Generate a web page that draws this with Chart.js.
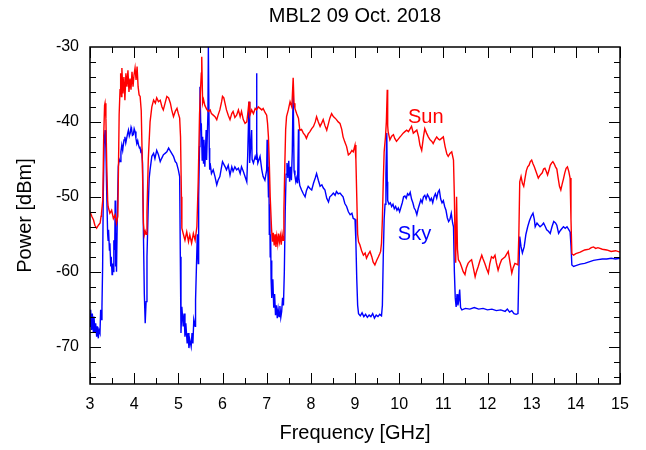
<!DOCTYPE html>
<html>
<head>
<meta charset="utf-8">
<script src="https://cdn.jsdelivr.net/npm/chart.js@4.4.1/dist/chart.umd.min.js"></script>
<style>
  html, body { margin: 0; padding: 0; background: #ffffff; }
  #wrap { width: 646px; height: 450px; }
</style>
</head>
<body>
<div id="wrap"><canvas id="c" width="646" height="450"></canvas></div>
<script>
// ---- data ----
const chartTitle = 'MBL2 09 Oct. 2018';
const xAxisTitle = 'Frequency [GHz]';
const yAxisTitle = 'Power [dBm]';
const xTickValues = [3, 4, 5, 6, 7, 8, 9, 10, 11, 12, 13, 14, 15];
const yTickValues = [-70, -60, -50, -40, -30];
const seriesNames = ['Sun', 'Sky'];

const sunFreq = [
  3.00, 3.04, 3.08, 3.11, 3.15, 3.19, 3.23, 3.25, 3.26, 3.29, 3.31, 3.33, 3.34, 3.36, 3.38, 3.40,
  3.41, 3.45, 3.49, 3.53, 3.57, 3.60, 3.63, 3.645, 3.66,
  3.680, 3.694, 3.711, 3.722, 3.745, 3.768, 3.790, 3.813, 3.836, 3.859, 3.882, 3.905, 3.928, 3.951,
  3.974, 3.997, 4.020, 4.043, 4.066, 4.089, 4.112, 4.135, 4.16, 4.19, 4.21, 4.23, 4.25, 4.27, 4.29,
  4.32, 4.36, 4.40, 4.44, 4.48, 4.51, 4.55, 4.59, 4.63, 4.66, 4.70, 4.74, 4.78, 4.82, 4.85, 4.89,
  4.93, 4.97, 5.00, 5.03, 5.05, 5.07, 5.08, 5.11, 5.15, 5.19, 5.23, 5.26, 5.30, 5.34, 5.38, 5.42,
  5.45, 5.48, 5.50, 5.52, 5.53, 5.55, 5.57, 5.60, 5.64, 5.68, 5.72, 5.75, 5.79, 5.83, 5.87, 5.90,
  5.94, 5.98, 6.00, 6.03, 6.06, 6.09, 6.13, 6.17, 6.21, 6.24, 6.28, 6.32, 6.36, 6.40, 6.43, 6.47,
  6.51, 6.55, 6.57, 6.60, 6.62, 6.66, 6.70, 6.74, 6.77, 6.81, 6.85, 6.89, 6.92, 6.96, 7.00, 7.02,
  7.04, 7.06, 7.08, 7.11, 7.13, 7.15, 7.17, 7.19, 7.21, 7.23, 7.25, 7.27, 7.29, 7.31, 7.33, 7.35,
  7.37, 7.39, 7.41, 7.43, 7.45, 7.49, 7.53, 7.57, 7.60, 7.62, 7.64, 7.68, 7.72, 7.75, 7.79, 7.83,
  7.87, 7.90, 7.94, 7.98, 8.02, 8.06, 8.10, 8.13, 8.17, 8.21, 8.25, 8.28, 8.32, 8.36, 8.40, 8.43,
  8.47, 8.51, 8.55, 8.58, 8.62, 8.66, 8.70, 8.73, 8.77, 8.81, 8.85, 8.89, 8.93, 8.96, 9.00, 9.02,
  9.04, 9.06, 9.08, 9.11, 9.15, 9.19, 9.23, 9.26, 9.30, 9.34, 9.38, 9.41, 9.45, 9.49, 9.53, 9.56,
  9.58, 9.60, 9.62, 9.64, 9.66, 9.69, 9.71, 9.73, 9.74, 9.75, 9.79, 9.83, 9.87, 9.90, 9.94, 9.98,
  10.02, 10.05, 10.09, 10.13, 10.17, 10.21, 10.25, 10.28, 10.32, 10.36, 10.40, 10.44, 10.47, 10.51,
  10.55, 10.58, 10.62, 10.66, 10.70, 10.74, 10.77, 10.81, 10.85, 10.89, 10.92, 10.96, 11.00, 11.04,
  11.08, 11.11, 11.15, 11.19, 11.23, 11.25, 11.27, 11.28, 11.30, 11.32, 11.34, 11.38, 11.41, 11.45,
  11.49, 11.52, 11.56, 11.60, 11.64, 11.68, 11.72, 11.75, 11.79, 11.83, 11.87, 11.90, 11.94, 11.98,
  12.02, 12.05, 12.09, 12.13, 12.17, 12.20, 12.24, 12.28, 12.32, 12.36, 12.40, 12.44, 12.47, 12.51,
  12.55, 12.58, 12.62, 12.66, 12.69, 12.71, 12.73, 12.76, 12.79, 12.82, 12.85, 12.88, 12.91, 12.94,
  12.97, 13.00, 13.03, 13.06, 13.09, 13.12, 13.15, 13.18, 13.21, 13.24, 13.27, 13.30, 13.33, 13.36,
  13.39, 13.42, 13.45, 13.48, 13.51, 13.54, 13.57, 13.60, 13.63, 13.66, 13.69, 13.72, 13.75, 13.78,
  13.81, 13.84, 13.87, 13.89, 13.91, 13.95, 14.00, 14.10, 14.20, 14.30, 14.35, 14.40, 14.45, 14.50,
  14.60, 14.70, 14.80, 14.90, 15.00
];
const sunPower = [
  -52.0, -52.6, -53.1, -53.8, -54.2, -53.8, -53.5, -52.6, -52.2, -50.4, -42.0, -37.8, -37.5, -39.5, -46.0, -50.5,
  -51.3, -52.2, -51.8, -52.9, -52.4, -53.5, -52.6, -46.0, -39.0,
  -35.7, -33.5, -36.6, -32.8, -36.2, -34.0, -37.1, -33.5, -35.3, -33.1, -36.0, -34.2, -35.7, -33.3,
  -35.3, -33.7, -32.8, -34.4, -32.6, -35.3, -36.4, -36.6, -38.5, -47.0, -53.5, -55.1, -54.6, -55.0, -52.0,
  -45.0, -40.0, -38.0, -37.1, -37.5, -36.8, -37.3, -37.1, -38.0, -38.4, -37.5, -36.6, -36.8, -37.5, -38.4, -39.3,
  -38.6, -38.2, -38.9, -39.5, -42.0, -50.0, -54.2, -54.9, -55.8, -54.7, -56.0, -55.1, -56.2, -54.9, -55.8, -54.0,
  -48.0, -39.0, -36.0, -33.5, -31.3, -37.5, -37.0, -37.8, -38.3, -38.6, -38.4, -38.9, -39.1, -39.3, -39.7, -39.1,
  -38.4, -37.3, -36.6, -36.8, -37.6, -38.4, -39.1, -39.7, -38.9, -38.6, -39.4, -39.1, -38.4, -39.3, -38.6, -39.7,
  -40.2, -40.0, -39.0, -37.3, -39.1, -38.4, -38.9, -38.2, -38.4, -38.0, -38.2, -38.4, -38.2, -38.7, -39.1, -40.2,
  -42.0, -45.5, -50.0, -54.2, -56.0, -54.8, -56.5, -55.0, -56.7, -55.3, -56.3, -54.9, -56.0, -55.2, -56.4, -55.0,
  -55.8, -52.0, -46.0, -41.0, -39.3, -38.4, -37.3, -38.0, -34.1, -37.5, -38.2, -38.9, -39.5, -41.1, -41.0, -41.5,
  -41.8, -42.2, -41.6, -41.3, -40.9, -40.6, -40.0, -39.3, -40.0, -40.6, -40.1, -39.7, -40.5, -41.1, -40.2, -39.5,
  -38.9, -39.3, -39.5, -39.7, -40.0, -40.2, -41.0, -42.0, -42.7, -43.3, -44.4, -44.2, -43.8, -44.0, -43.1, -45.0,
  -50.0, -55.0, -56.0, -56.4, -57.2, -57.8, -57.5, -58.2, -57.7, -57.3, -58.0, -58.7, -59.1, -58.5, -58.0, -57.6,
  -57.3, -56.2, -53.0, -48.0, -44.0, -42.0, -40.0, -35.7, -40.5, -41.3, -42.4, -41.9, -41.7, -42.2, -42.6, -42.3,
  -42.0, -41.8, -41.5, -41.3, -41.1, -41.3, -40.9, -40.6, -41.5, -41.3, -41.1, -42.0, -43.1, -43.8,
  -42.0, -40.9, -41.5, -42.0, -42.4, -42.6, -42.9, -42.4, -42.0, -42.3, -42.4, -42.2, -42.0, -43.3,
  -44.3, -44.6, -44.2, -44.0, -45.1, -50.0, -57.5, -58.8, -50.0, -57.0, -58.4, -58.8, -59.3, -60.0,
  -60.4, -59.5, -58.9, -58.6, -58.4, -59.5, -60.7, -60.0, -59.3, -58.5, -57.8, -58.3, -58.9, -59.6,
  -60.2, -59.0, -58.0, -58.2, -57.8, -58.8, -59.8, -59.0, -58.4, -58.2, -58.0, -57.6, -57.3, -58.8,
  -60.2, -59.5, -58.9, -59.0, -59.1, -55.0, -48.0, -47.3, -48.2, -48.6, -47.5, -46.5, -46.0, -45.8,
  -45.3, -45.1, -45.6, -46.0, -46.5, -47.0, -47.5, -47.2, -47.0, -46.8, -46.3, -46.2, -46.6, -47.1,
  -46.5, -45.8, -45.5, -45.3, -45.6, -46.0, -46.3, -47.5, -48.6, -49.1, -48.3, -47.6, -46.8, -46.2,
  -46.0, -46.6, -47.5, -53.0, -57.6, -57.8, -57.6, -57.4, -57.1, -57.0, -56.8, -56.7, -56.9, -56.8,
  -57.0, -57.1, -57.3, -57.2, -57.4
];

const skyFreq = [
  3.000, 3.015, 3.038, 3.053, 3.075, 3.090, 3.113, 3.128, 3.151, 3.166, 3.189, 3.204, 3.226, 3.241,
  3.256, 3.271, 3.286, 3.30, 3.32, 3.34, 3.36, 3.38, 3.40, 3.41, 3.42, 3.44, 3.45, 3.47, 3.48, 3.50,
  3.51, 3.53, 3.54, 3.56, 3.57, 3.58, 3.59, 3.60, 3.62, 3.64, 3.66, 3.68, 3.70, 3.72, 3.74, 3.75,
  3.77, 3.79, 3.81, 3.83, 3.85, 3.87, 3.89, 3.91, 3.93, 3.94, 3.96, 3.98, 4.00, 4.02, 4.04, 4.06,
  4.08, 4.10, 4.12, 4.13, 4.15, 4.17, 4.19, 4.21, 4.23, 4.25, 4.27, 4.29, 4.32, 4.34, 4.36, 4.40,
  4.44, 4.47, 4.51, 4.55, 4.59, 4.62, 4.66, 4.70, 4.74, 4.78, 4.81, 4.85, 4.89, 4.93, 4.96, 5.00,
  5.03, 5.045, 5.06, 5.08, 5.11, 5.13, 5.15, 5.17, 5.20, 5.22, 5.24, 5.26, 5.29, 5.31, 5.33, 5.35,
  5.38, 5.39, 5.41, 5.43, 5.45, 5.46, 5.48, 5.49, 5.51, 5.52, 5.54, 5.55, 5.57, 5.58, 5.60, 5.61,
  5.63, 5.64, 5.67, 5.68, 5.70, 5.71, 5.72, 5.75, 5.79, 5.83, 5.87, 5.90, 5.94, 6.00, 6.06, 6.09,
  6.13, 6.17, 6.21, 6.24, 6.28, 6.32, 6.36, 6.40, 6.43, 6.47, 6.51, 6.55, 6.57, 6.60, 6.61, 6.62,
  6.66, 6.67, 6.70, 6.74, 6.76, 6.77, 6.78, 6.80, 6.85, 6.89, 6.92, 6.96, 7.00, 7.01, 7.03, 7.04,
  7.05, 7.06, 7.07, 7.08, 7.09, 7.10, 7.11, 7.12, 7.14, 7.16, 7.18, 7.20, 7.22, 7.24, 7.26, 7.28,
  7.30, 7.32, 7.34, 7.36, 7.38, 7.40, 7.42, 7.44, 7.46, 7.48, 7.50, 7.52, 7.54, 7.56, 7.58, 7.60,
  7.62, 7.64, 7.66, 7.68, 7.70, 7.72, 7.73, 7.75, 7.79, 7.83, 7.87, 7.90, 7.94, 7.98, 8.02, 8.06,
  8.10, 8.13, 8.17, 8.21, 8.25, 8.28, 8.32, 8.36, 8.40, 8.43, 8.47, 8.51, 8.55, 8.58, 8.62, 8.66,
  8.70, 8.73, 8.77, 8.81, 8.85, 8.89, 8.93, 8.96, 9.00, 9.02, 9.04, 9.06, 9.08, 9.12, 9.16, 9.20,
  9.24, 9.28, 9.32, 9.36, 9.40, 9.44, 9.48, 9.52, 9.56, 9.60, 9.62, 9.64, 9.66, 9.68, 9.70, 9.72,
  9.73, 9.74, 9.77, 9.80, 9.83, 9.86, 9.89, 9.92, 9.95, 9.98, 10.01, 10.04, 10.07, 10.10, 10.13,
  10.16, 10.19, 10.22, 10.25, 10.28, 10.31, 10.34, 10.37, 10.40, 10.43, 10.46, 10.49, 10.52, 10.55,
  10.58, 10.61, 10.64, 10.67, 10.70, 10.73, 10.76, 10.79, 10.82, 10.85, 10.88, 10.91, 10.94, 10.97,
  11.00, 11.03, 11.06, 11.09, 11.12, 11.15, 11.18, 11.21, 11.23, 11.25, 11.27, 11.29, 11.31, 11.33,
  11.35, 11.37, 11.39, 11.42, 11.50, 11.60, 11.70, 11.80, 11.90, 12.00, 12.10, 12.20, 12.30, 12.40,
  12.45, 12.50, 12.55, 12.60, 12.65, 12.69, 12.71, 12.73, 12.76, 12.79, 12.83, 12.87, 12.91, 12.95,
  12.99, 13.03, 13.06, 13.08, 13.12, 13.16, 13.19, 13.23, 13.27, 13.31, 13.34, 13.38, 13.42, 13.46,
  13.50, 13.54, 13.57, 13.61, 13.65, 13.69, 13.72, 13.76, 13.80, 13.84, 13.87, 13.89, 13.91, 13.95,
  14.00, 14.10, 14.20, 14.30, 14.40, 14.50, 14.60, 14.70, 14.80, 14.90, 15.00
];
const skyPower = [
  -67.3, -65.1, -67.8, -65.6, -68.0, -66.0, -68.2, -66.9, -68.7, -67.3, -68.9, -67.8, -68.2, -65.1,
  -66.4, -64.7, -59.3, -50.0, -43.0, -41.1, -43.5, -50.0, -55.0, -55.8, -54.4, -57.1, -56.2, -59.3, -58.0, -60.4,
  -58.9, -60.0, -55.8, -57.1, -50.5, -59.3, -54.9, -60.0, -52.0, -46.0, -45.0, -45.3, -44.0, -43.1, -43.8, -43.3,
  -42.4, -42.0, -42.8, -42.2, -41.6, -41.1, -41.9, -41.5, -40.7, -40.9, -41.8, -41.7, -40.9, -41.3, -42.2, -42.9,
  -42.5, -43.1, -43.5, -43.3, -44.0, -43.8, -45.5, -55.0, -63.0, -66.9, -64.0, -58.0, -51.0, -47.5, -46.4, -44.6,
  -44.2, -44.9, -43.8, -44.4, -45.3, -44.9, -44.4, -44.2, -44.0, -43.5, -43.8, -44.2, -44.6, -45.3, -45.5, -46.4,
  -47.3, -58.0, -68.2, -64.7, -67.3, -65.6, -68.7, -66.9, -69.6, -68.2, -70.2, -69.1, -70.0, -68.2, -69.6, -66.4,
  -67.3, -63.8, -59.3, -55.0, -58.9, -50.0, -43.3, -35.3, -41.1, -40.2, -45.1, -42.0, -45.5, -42.4, -46.0, -44.6,
  -41.1, -45.1, -38.9, -30.0, -43.5, -46.4, -45.5, -46.9, -46.4, -47.3, -48.4, -47.8, -47.3, -45.3, -46.0, -46.4,
  -45.8, -47.1, -46.0, -46.6, -46.0, -46.4, -46.2, -46.9, -46.0, -46.6, -47.3, -48.0, -44.6, -37.3, -45.0, -45.5,
  -41.1, -45.0, -45.5, -44.6, -45.0, -33.5, -44.0, -45.5, -44.6, -46.4, -47.3, -47.8, -46.4, -42.4, -47.0, -50.0,
  -46.0, -55.0, -51.0, -58.0, -55.0, -61.0, -58.5, -63.5, -61.0, -64.8, -63.0, -65.8, -64.5, -66.2, -65.0, -66.0,
  -64.6, -66.1, -65.3, -63.5, -64.5, -60.0, -52.0, -47.0, -45.5, -47.5, -45.2, -48.0, -46.0, -47.8, -44.0, -35.3,
  -46.5, -47.2, -48.0, -47.5, -48.2, -41.0, -47.5, -48.5, -49.1, -49.6, -50.0, -49.2, -48.6, -48.9, -49.1, -48.2,
  -47.5, -46.9, -47.8, -48.6, -48.4, -48.8, -49.1, -50.2, -50.7, -50.0, -49.8, -49.5, -49.8, -49.3, -49.6, -49.5,
  -49.8, -50.0, -50.9, -51.3, -52.0, -52.4, -52.2, -52.9, -53.0, -56.0, -61.0, -64.5, -65.6, -65.9, -65.5, -66.0,
  -65.7, -66.1, -65.8, -66.0, -65.6, -66.2, -65.8, -66.0, -65.7, -65.9, -64.5, -58.0, -53.0, -51.0, -47.0, -41.5,
  -48.0, -50.5, -51.0, -50.8, -51.3, -51.0, -51.6, -51.3, -51.8, -51.5, -52.0, -51.4, -50.8, -50.0, -49.9,
  -50.2, -49.6, -49.8, -49.4, -50.3, -50.8, -51.5, -51.8, -52.4, -51.6, -51.0, -50.4, -50.8, -50.0,
  -49.8, -50.3, -49.7, -50.0, -50.5, -50.2, -50.8, -50.0, -49.6, -50.2, -49.4, -49.1, -50.3, -50.8,
  -50.5, -51.3, -51.8, -52.8, -53.3, -53.0, -52.2, -53.5, -54.0, -60.0, -63.5, -64.7, -63.0, -64.5,
  -63.8, -62.4, -64.8, -65.1, -64.9, -65.0, -64.8, -65.0, -64.9, -65.1, -65.0, -65.2, -65.1, -65.3,
  -65.0, -65.4, -65.2, -65.6, -65.7, -65.6, -60.0, -55.3, -56.7, -57.5, -56.7, -55.0, -54.0, -53.2,
  -52.6, -52.2, -53.0, -54.0, -53.5, -53.8, -54.0, -53.8, -53.5, -54.0, -54.4, -54.6, -54.9, -54.0,
  -53.3, -53.5, -53.8, -54.9, -54.5, -54.2, -54.0, -54.2, -54.0, -54.4, -54.7, -56.5, -59.1, -59.3,
  -59.2, -59.0, -58.9, -58.7, -58.5, -58.4, -58.3, -58.3, -58.2, -58.3, -58.2
];

// in-plot series labels (data coordinates)
const labelFreq = [10.2, 9.97];
const labelPower = [-40.15, -55.8];

const toPoints = (xs, ys) => xs.map((x, i) => ({ x: x, y: ys[i] }));

const FONT = '"Liberation Sans", Arial, Helvetica, sans-serif';
Chart.defaults.font.family = FONT;
Chart.defaults.color = '#000000';

const frameAndTicks = {
  id: 'frameAndTicks',
  afterDatasetsDraw(chart) {
    const { ctx, chartArea: a, scales: { x, y } } = chart;
    ctx.save();
    ctx.strokeStyle = '#000000';
    ctx.lineWidth = 1;
    ctx.beginPath();
    for (let v = 3; v <= 15.0001; v += 0.5) {
      const px = Math.round(x.getPixelForValue(v)) + 0.5;
      const len = Math.abs(v - Math.round(v)) < 1e-6 ? 11 : 6;
      ctx.moveTo(px, a.bottom); ctx.lineTo(px, a.bottom - len);
      ctx.moveTo(px, a.top); ctx.lineTo(px, a.top + len);
    }
    for (let v = -74; v <= -30.0001; v += 2) {
      const py = Math.round(y.getPixelForValue(v)) + 0.5;
      const len = Math.abs(v % 10) < 1e-6 ? 11 : 6;
      ctx.moveTo(a.left, py); ctx.lineTo(a.left + len, py);
      ctx.moveTo(a.right, py); ctx.lineTo(a.right - len, py);
    }
    ctx.stroke();
    ctx.lineWidth = 1.5;
    ctx.strokeRect(a.left, a.top, a.right - a.left, a.bottom - a.top);
    // series labels
    ctx.font = '20px ' + FONT;
    ctx.textAlign = 'left';
    ctx.textBaseline = 'alphabetic';
    const cols = ['#ff0000', '#0000ff'];
    seriesNames.forEach((n, i) => {
      ctx.fillStyle = cols[i];
      ctx.fillText(n, x.getPixelForValue(labelFreq[i]), y.getPixelForValue(labelPower[i]));
    });
    ctx.restore();
  }
};

new Chart(document.getElementById('c'), {
  type: 'line',
  data: {
    datasets: [
      { label: seriesNames[0], data: toPoints(sunFreq, sunPower), borderColor: '#ff0000', borderWidth: 1.4,
        pointRadius: 0, tension: 0, fill: false },
      { label: seriesNames[1], data: toPoints(skyFreq, skyPower), borderColor: '#0000ff', borderWidth: 1.4,
        pointRadius: 0, tension: 0, fill: false }
    ]
  },
  options: {
    responsive: false,
    animation: false,
    events: [],
    layout: { padding: { left: 0, right: 26, top: 0, bottom: 0 } },
    plugins: {
      legend: { display: false },
      tooltip: { enabled: false },
      title: {
        display: true, text: chartTitle, fullSize: false,
        font: { size: 20, weight: 'normal', lineHeight: 1.2 },
        color: '#000000',
        padding: { top: 4, bottom: 19 }
      }
    },
    scales: {
      x: {
        type: 'linear', min: 3, max: 15,
        grid: { display: false, drawTicks: false },
        border: { display: false },
        afterBuildTicks: (s) => { s.ticks = xTickValues.map(v => ({ value: v })); },
        afterFit: (s) => { s.height = 66; },
        ticks: { font: { size: 16 }, color: '#000000', padding: 11, maxRotation: 0, autoSkip: false },
        title: { display: true, text: xAxisTitle, font: { size: 20 }, color: '#000000', padding: { top: 0, bottom: 5 } }
      },
      y: {
        type: 'linear', min: -75, max: -30,
        grid: { display: false, drawTicks: false },
        border: { display: false },
        afterBuildTicks: (s) => { s.ticks = yTickValues.map(v => ({ value: v })); },
        afterFit: (s) => { s.width = 90; },
        ticks: { font: { size: 16 }, color: '#000000', padding: 11, autoSkip: false },
        title: { display: true, text: yAxisTitle, font: { size: 20 }, color: '#000000', padding: { top: 13, bottom: 0 } }
      }
    }
  },
  plugins: [frameAndTicks]
});
</script>
</body>
</html>
